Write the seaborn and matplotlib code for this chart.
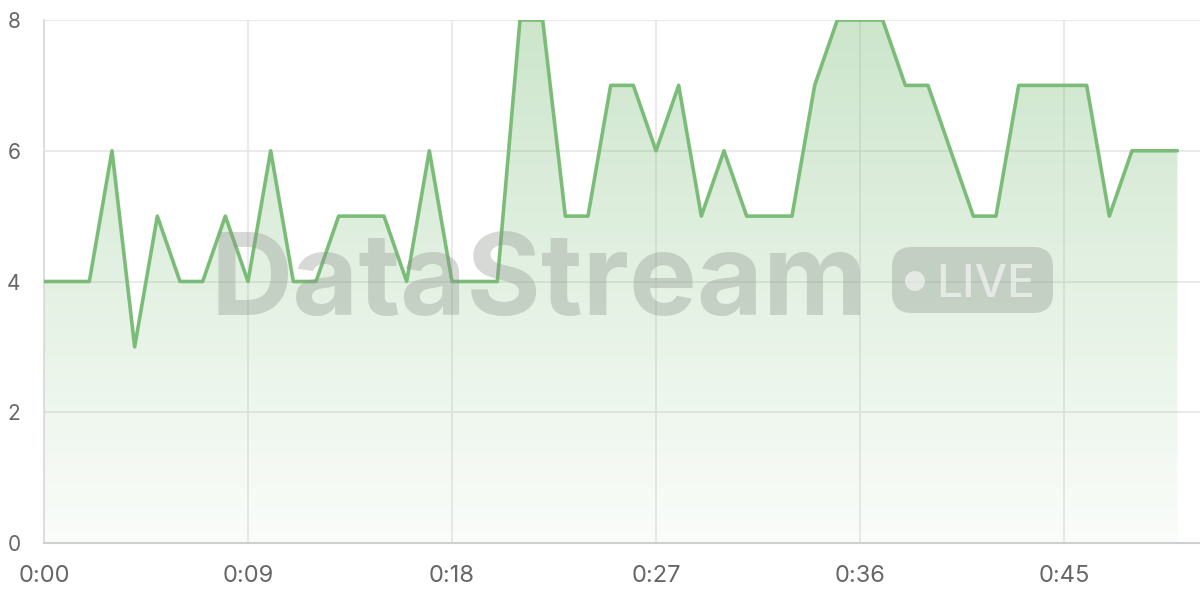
import numpy as np
import pandas as pd
import seaborn as sns
import matplotlib.pyplot as plt
from matplotlib.patches import FancyBboxPatch, Circle
from matplotlib.colors import LinearSegmentedColormap

# data: one reading per second
seconds = list(range(51))
values = [4, 4, 4, 6, 3, 5, 4, 4, 5, 4,
          6, 4, 4, 5, 5, 5, 4, 6, 4, 4,
          4, 8, 8, 5, 5, 7, 7, 6, 7, 5,
          6, 5, 5, 5, 7, 8, 8, 8, 7, 7,
          6, 5, 5, 7, 7, 7, 7, 5, 6, 6,
          6]
tick_secs = [0, 9, 18, 27, 36, 45]
tick_labels = ["0:00", "0:09", "0:18", "0:27", "0:36", "0:45"]
y_ticks = [0, 2, 4, 6, 8]

df = pd.DataFrame({"t": seconds, "v": values})

sns.set_style("white")
plt.rcParams['font.family'] = ['Inter', 'DejaVu Sans']

line_color = "#7bbd78"

fig = plt.figure(figsize=(12, 6), dpi=100)
ax = fig.add_axes([44 / 1200, 1 - 543 / 600, 1 - 44 / 1200, (543 - 20) / 600])

# gradient fill under the line
fill = ax.fill_between(df["t"], df["v"], 0, color="none", lw=0)
cmap = LinearSegmentedColormap.from_list("g", [(0.48, 0.74, 0.47, 0.04), (0.48, 0.74, 0.47, 0.38)])
grad = np.linspace(0, 1, 256).reshape(-1, 1)
im = ax.imshow(grad, cmap=cmap, aspect="auto", origin="lower",
               extent=[0, 50, 0, 8], zorder=1)
im.set_clip_path(fill.get_paths()[0], transform=ax.transData)

sns.lineplot(data=df, x="t", y="v", ax=ax, color=line_color, lw=2.6, zorder=4)

ax.set_xlim(0, 51)
ax.set_ylim(0, 8)
ax.set_xticks(tick_secs)
ax.set_xticklabels(tick_labels)
ax.set_yticks(y_ticks)
ax.set_xlabel("")
ax.set_ylabel("")
ax.grid(True, color="#e6e6e6", lw=1.2, zorder=0)
ax.set_axisbelow(True)
for s in ["top", "right"]:
    ax.spines[s].set_visible(False)
ax.spines["left"].set_color("#d9d9d9")
ax.spines["bottom"].set_color("#cfcfcf")
ax.spines["left"].set_linewidth(1.2)
ax.spines["bottom"].set_linewidth(1.5)
ax.tick_params(axis="both", length=11, width=1.2, color="#e3e3e3", labelcolor="#666666")
ax.tick_params(axis="x", labelsize=17, pad=5)
ax.tick_params(axis="y", labelsize=15, pad=6)

# watermark
wm_color = (0.55, 0.58, 0.55, 0.35)
px = fig.dpi_scale_trans
fig.text(2.10, 6 - 3.15, "DataStream", fontsize=82, fontweight="bold",
         color=wm_color, ha="left", va="baseline", zorder=3, transform=px)
badge = FancyBboxPatch((8.92, 6 - 3.13), 1.61, 0.66,
                       boxstyle="round,pad=0,rounding_size=0.2",
                       transform=px, facecolor=wm_color, edgecolor="none", zorder=3)
fig.patches.append(badge)
dot = Circle((9.15, 6 - 2.81), 0.1, transform=px, facecolor=(1, 1, 1, 0.55),
             edgecolor="none", zorder=4)
fig.patches.append(dot)
fig.text(9.36, 6 - 2.97, "LIVE", fontsize=33, fontweight="medium", color=(1, 1, 1, 0.55),
         ha="left", va="baseline", zorder=4, transform=px)

plt.savefig("out.png", dpi=100)
